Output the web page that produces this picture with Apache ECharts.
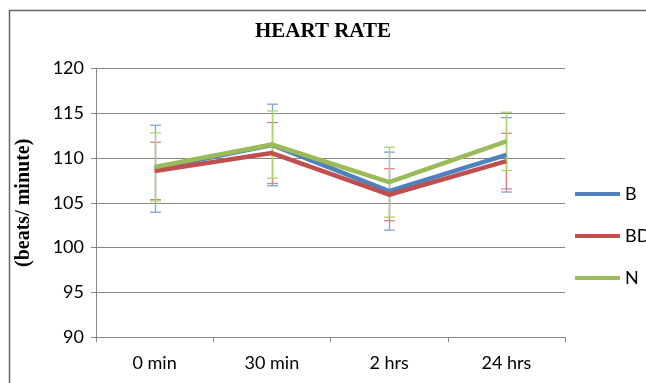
<!DOCTYPE html>
<html><head><meta charset="utf-8">
<script src="https://cdn.jsdelivr.net/npm/echarts@6/dist/echarts.min.js"></script>
<style>html,body{margin:0;padding:0;background:#fff}#c{width:646px;height:383px}</style>
</head><body><div id="c"></div>
<script>
const categories = ['0 min', '30 min', '2 hrs', '24 hrs'];
const seriesNames = ['B', 'BD', 'N'];
const valuesB  = [108.8, 111.45, 106.3, 110.35];
const valuesBD = [108.55, 110.55, 105.9, 109.65];
const valuesN  = [109.0, 111.5, 107.3, 111.85];
const errB  = [4.85, 4.55, 4.35, 4.15];
const errBD = [3.2, 3.4, 2.9, 3.1];
const errN  = [3.8, 3.75, 3.9, 3.25];
const yTicks = [90, 95, 100, 105, 110, 115, 120];

const lineColors = ['#4F81BD', '#C0504D', '#9BBB59'];
const errColors = ['#7FA3D3', '#D98585', '#A9D46E'];
const allVals = [valuesB, valuesBD, valuesN];
const allErr = [errB, errBD, errN];

const chart = echarts.init(document.getElementById('c'), null, {renderer: 'canvas'});
const labelFont = 'Lato';

function errSeries(k) {
  return {
    type: 'custom', name: seriesNames[k] + ' err', z: 1 + k,
    data: allVals[k].map((v, i) => [i, v - allErr[k][i], v + allErr[k][i]]),
    renderItem: function (params, api) {
      const lo = api.coord([api.value(0), api.value(1)]);
      const hi = api.coord([api.value(0), api.value(2)]);
      const x = Math.round(lo[0]) + 0.5;
      const w = 5.5;
      const st = {stroke: errColors[k], lineWidth: 1.3};
      return {type: 'group', children: [
        {type: 'line', shape: {x1: x, y1: hi[1], x2: x, y2: lo[1]}, style: st},
        {type: 'line', shape: {x1: x - w, y1: hi[1], x2: x + w, y2: hi[1]}, style: st},
        {type: 'line', shape: {x1: x - w, y1: lo[1], x2: x + w, y2: lo[1]}, style: st}
      ]};
    },
    silent: true
  };
}

const lineSeries = allVals.map((vals, k) => ({
  type: 'line', name: seriesNames[k], data: vals, z: 10 + k,
  symbol: 'none', lineStyle: {width: 4.5, color: lineColors[k]},
  itemStyle: {color: lineColors[k]}
}));

chart.setOption({
  animation: false,
  title: {
    text: 'HEART RATE', left: 'center', top: 16,
    textStyle: {fontFamily: 'Liberation Serif', fontWeight: 'bold', fontSize: 21, color: '#000'}
  },
  legend: {
    data: seriesNames, orient: 'vertical', left: 575, top: 185, padding: 0,
    icon: 'rect', itemWidth: 45, itemHeight: 4, itemGap: 24,
    textStyle: {fontFamily: labelFont, fontSize: 18, color: '#000'}
  },
  grid: {left: 96, right: 81, top: 68.3, bottom: 45.7, containLabel: false},
  xAxis: {
    type: 'category', data: categories, boundaryGap: true,
    axisLine: {lineStyle: {color: '#868686', width: 1}},
    axisTick: {show: true, length: 5, lineStyle: {color: '#868686'}},
    axisLabel: {fontFamily: labelFont, fontSize: 18, color: '#000', margin: 17}
  },
  yAxis: {
    type: 'value', min: yTicks[0], max: yTicks[yTicks.length - 1], interval: 5,
    name: '(beats/ minute)', nameLocation: 'middle', nameGap: 62, nameRotate: 90,
    nameTextStyle: {fontFamily: 'Liberation Serif', fontWeight: 'bold', fontSize: 20, color: '#000'},
    axisLine: {show: true, lineStyle: {color: '#868686', width: 1}},
    axisTick: {show: true, length: 5, lineStyle: {color: '#868686'}},
    splitLine: {lineStyle: {color: '#868686', width: 1}},
    axisLabel: {fontFamily: labelFont, fontSize: 18, color: '#000', margin: 12}
  },
  graphic: [{
    type: 'rect', left: 7, top: 8, z: 100, silent: true,
    shape: {x: 0, y: 0, width: 700, height: 420},
    style: {fill: 'none', stroke: '#666', lineWidth: 1.5}
  }],
  series: [errSeries(0), errSeries(1), errSeries(2)].concat(lineSeries)
});
</script></body></html>
